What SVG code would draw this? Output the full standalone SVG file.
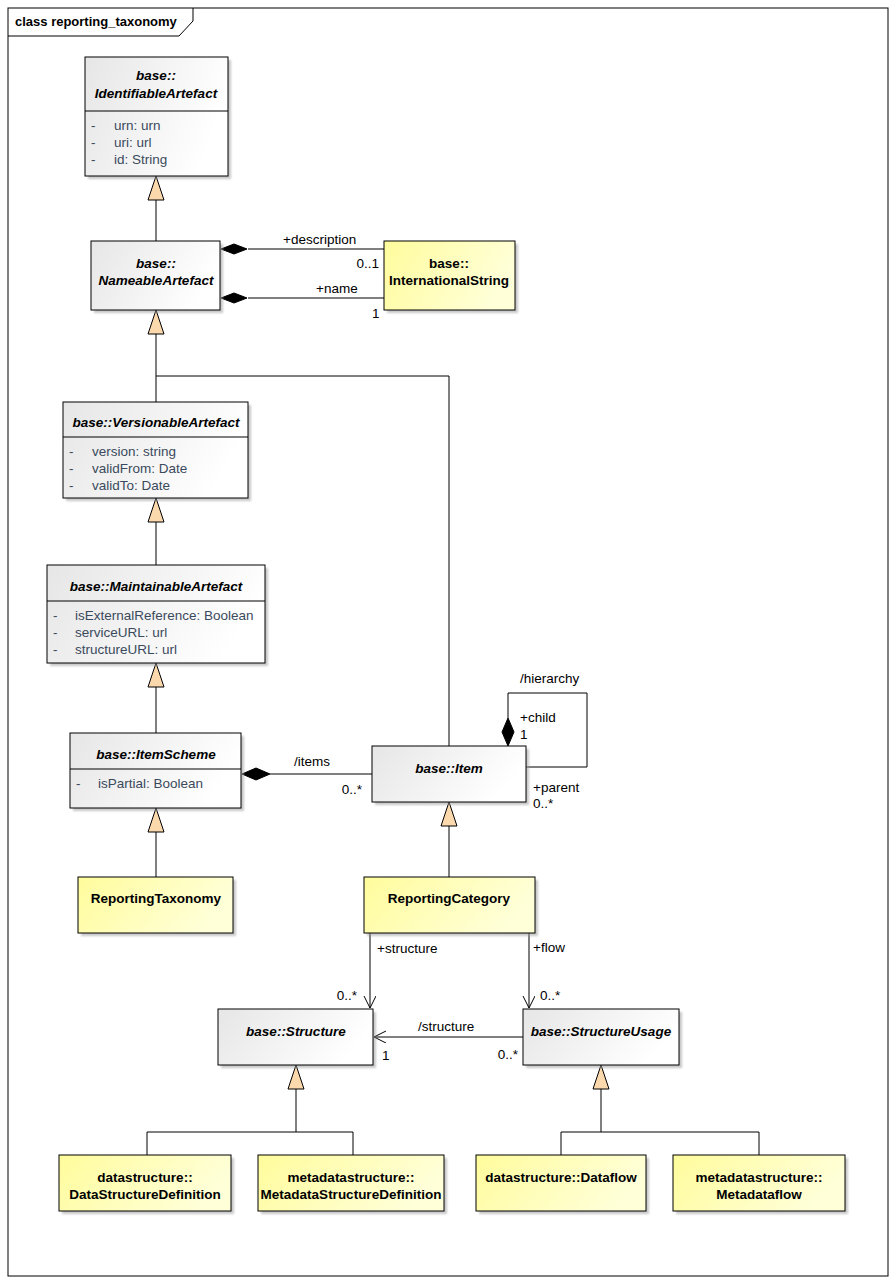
<svg xmlns="http://www.w3.org/2000/svg" width="896" height="1283" viewBox="0 0 896 1283">
<defs>
<linearGradient id="gg" x1="0" y1="0" x2="1" y2="0.3">
<stop offset="0" stop-color="#E6E6E6"/><stop offset="1" stop-color="#FFFFFF"/>
</linearGradient>
<linearGradient id="gy" x1="0" y1="0" x2="1" y2="0.3">
<stop offset="0" stop-color="#FFFC9C"/><stop offset="1" stop-color="#FFFFD8"/>
</linearGradient>
<filter id="sh" x="-10%" y="-10%" width="130%" height="130%">
<feGaussianBlur stdDeviation="1.2"/>
</filter>
<marker id="open" markerWidth="14" markerHeight="14" refX="12" refY="6" orient="auto" markerUnits="userSpaceOnUse">
<path d="M0,0 L12,6 L0,12" fill="none" stroke="#000" stroke-width="1"/>
</marker>
</defs>
<style>
.bg{fill:#fff}
.frame{fill:none;stroke:#000;stroke-width:1}
.box{stroke:#000;stroke-width:1}
.abs{fill:url(#gg)}
.yel{fill:url(#gy)}
.shadow{fill:#9A9A9A;opacity:0.55;filter:url(#sh)}
.ln{fill:none;stroke:#000;stroke-width:1}
.tri{fill:#FBD9AC;stroke:#000;stroke-width:1}
.dia{fill:#000;stroke:#000;stroke-width:1}
text{font-family:"Liberation Sans",Arial,sans-serif;font-size:13.5px;fill:#000}
.cn{font-weight:bold;font-style:italic;text-anchor:middle}
.cy{font-weight:bold;text-anchor:middle}
.at{fill:#3A4A5C}
.e{text-anchor:end}
.title{font-weight:bold;font-size:13px}
</style>
<rect class="bg" x="0" y="0" width="896" height="1283"/>
<g id="frame">
<rect class="frame" x="8" y="8" width="880" height="1268"/>
<path class="frame" d="M8,36 L179,36 L193,21 L193,8"/>
<text class="title" x="15" y="26">class reporting_taxonomy</text>
</g>

<g id="connectors">
<line class="ln" x1="156" y1="200" x2="156" y2="241"/>
<polygon class="tri" points="156,176 148,200 164,200"/>
<line class="ln" x1="156" y1="334" x2="156" y2="402"/>
<polygon class="tri" points="156,310 148,334 164,334"/>
<polyline class="ln" points="449,746 449,376 156,376"/>
<line class="ln" x1="156" y1="522" x2="156" y2="565"/>
<polygon class="tri" points="156,498 148,522 164,522"/>
<line class="ln" x1="156" y1="687" x2="156" y2="733"/>
<polygon class="tri" points="156,663 148,687 164,687"/>
<line class="ln" x1="156" y1="832" x2="156" y2="877"/>
<polygon class="tri" points="156,808 148,832 164,832"/>
<line class="ln" x1="248" y1="249" x2="384" y2="249"/>
<polygon class="dia" points="221,249 234,244 247,249 234,254"/>
<text x="283" y="244">+description</text>
<text class="e" x="379" y="268">0..1</text>
<line class="ln" x1="248" y1="298" x2="384" y2="298"/>
<polygon class="dia" points="221,298 234,293 247,298 234,303"/>
<text x="316" y="293">+name</text>
<text x="372" y="318">1</text>
<line class="ln" x1="270" y1="774" x2="372" y2="774"/>
<polygon class="dia" points="242,774 256,768 270,774 256,780"/>
<text x="294" y="766">/items</text>
<text class="e" x="362" y="794">0..*</text>
<polyline class="ln" points="526,767 587,767 587,693 508,693 508,718"/>
<polygon class="dia" points="508,746 502,732 508,718 514,732"/>
<text x="520" y="683">/hierarchy</text>
<text x="520" y="722">+child</text>
<text x="520" y="739">1</text>
<text x="533" y="792">+parent</text>
<text x="533" y="808">0..*</text>
<line class="ln" x1="449" y1="826" x2="449" y2="877"/>
<polygon class="tri" points="449,802 441,826 457,826"/>
<line class="ln" x1="370" y1="933" x2="370" y2="1008" marker-end="url(#open)"/>
<text x="377" y="953">+structure</text>
<text class="e" x="357" y="1000">0..*</text>
<line class="ln" x1="529" y1="933" x2="529" y2="1008" marker-end="url(#open)"/>
<text x="533" y="952">+flow</text>
<text x="540" y="1000">0..*</text>
<line class="ln" x1="523" y1="1037" x2="374" y2="1037" marker-end="url(#open)"/>
<text x="418" y="1031">/structure</text>
<text x="382" y="1060">1</text>
<text class="e" x="518" y="1059">0..*</text>
<line class="ln" x1="296" y1="1089" x2="296" y2="1132"/>
<polygon class="tri" points="296,1065 288,1089 304,1089"/>
<polyline class="ln" points="147,1155 147,1132 353,1132 353,1155"/>
<line class="ln" x1="601" y1="1089" x2="601" y2="1132"/>
<polygon class="tri" points="601,1065 593,1089 609,1089"/>
<polyline class="ln" points="561,1155 561,1132 759,1132 759,1155"/>
</g>

<g id="IdentifiableArtefact">
<rect class="shadow" x="88" y="60" width="143" height="119"/>
<rect class="box abs" x="85" y="57" width="143" height="119"/>
<text class="cn" x="156" y="80">base::</text>
<text class="cn" x="156" y="98">IdentifiableArtefact</text>
<line class="ln" x1="85" y1="111" x2="228" y2="111"/>
<text class="at" x="91" y="130">-</text><text class="at" x="114" y="130">urn: urn</text>
<text class="at" x="91" y="147">-</text><text class="at" x="114" y="147">uri: url</text>
<text class="at" x="91" y="164">-</text><text class="at" x="114" y="164">id: String</text>
</g>

<g id="NameableArtefact">
<rect class="shadow" x="94" y="244" width="129" height="69"/>
<rect class="box abs" x="91" y="241" width="129" height="69"/>
<text class="cn" x="156" y="268">base::</text>
<text class="cn" x="156" y="285">NameableArtefact</text>
</g>

<g id="InternationalString">
<rect class="shadow" x="387" y="244" width="131" height="69"/>
<rect class="box yel" x="384" y="241" width="131" height="69"/>
<text class="cy" x="449" y="268">base::</text>
<text class="cy" x="449" y="285">InternationalString</text>
</g>

<g id="VersionableArtefact">
<rect class="shadow" x="66" y="405" width="185" height="96"/>
<rect class="box abs" x="63" y="402" width="185" height="96"/>
<text class="cn" x="156" y="427">base::VersionableArtefact</text>
<line class="ln" x1="63" y1="437" x2="248" y2="437"/>
<text class="at" x="69" y="456">-</text><text class="at" x="92" y="456">version: string</text>
<text class="at" x="69" y="473">-</text><text class="at" x="92" y="473">validFrom: Date</text>
<text class="at" x="69" y="490">-</text><text class="at" x="92" y="490">validTo: Date</text>
</g>

<g id="MaintainableArtefact">
<rect class="shadow" x="50" y="568" width="218" height="98"/>
<rect class="box abs" x="47" y="565" width="218" height="98"/>
<text class="cn" x="156" y="591">base::MaintainableArtefact</text>
<line class="ln" x1="47" y1="601" x2="265" y2="601"/>
<text class="at" x="53" y="620">-</text><text class="at" x="75" y="620">isExternalReference: Boolean</text>
<text class="at" x="53" y="637">-</text><text class="at" x="75" y="637">serviceURL: url</text>
<text class="at" x="53" y="654">-</text><text class="at" x="75" y="654">structureURL: url</text>
</g>

<g id="ItemScheme">
<rect class="shadow" x="73" y="736" width="171" height="75"/>
<rect class="box abs" x="70" y="733" width="171" height="75"/>
<text class="cn" x="156" y="759">base::ItemScheme</text>
<line class="ln" x1="70" y1="769" x2="241" y2="769"/>
<text class="at" x="76" y="788">-</text><text class="at" x="98" y="788">isPartial: Boolean</text>
</g>

<g id="Item">
<rect class="shadow" x="375" y="749" width="154" height="56"/>
<rect class="box abs" x="372" y="746" width="154" height="56"/>
<text class="cn" x="449" y="773">base::Item</text>
</g>

<g id="ReportingTaxonomy">
<rect class="shadow" x="81" y="880" width="155" height="56"/>
<rect class="box yel" x="78" y="877" width="155" height="56"/>
<text class="cy" x="156" y="903">ReportingTaxonomy</text>
</g>

<g id="ReportingCategory">
<rect class="shadow" x="367" y="880" width="171" height="56"/>
<rect class="box yel" x="364" y="877" width="171" height="56"/>
<text class="cy" x="449" y="903">ReportingCategory</text>
</g>

<g id="Structure">
<rect class="shadow" x="221" y="1012" width="155" height="56"/>
<rect class="box abs" x="218" y="1009" width="155" height="56"/>
<text class="cn" x="296" y="1036">base::Structure</text>
</g>

<g id="StructureUsage">
<rect class="shadow" x="526" y="1012" width="156" height="56"/>
<rect class="box abs" x="523" y="1009" width="156" height="56"/>
<text class="cn" x="601" y="1036">base::StructureUsage</text>
</g>

<g id="DataStructureDefinition">
<rect class="shadow" x="62" y="1158" width="172" height="56"/>
<rect class="box yel" x="59" y="1155" width="172" height="56"/>
<text class="cy" x="145" y="1182">datastructure::</text>
<text class="cy" x="145" y="1199">DataStructureDefinition</text>
</g>

<g id="MetadataStructureDefinition">
<rect class="shadow" x="261" y="1158" width="186" height="56"/>
<rect class="box yel" x="258" y="1155" width="186" height="56"/>
<text class="cy" x="351" y="1182">metadatastructure::</text>
<text class="cy" x="351" y="1199">MetadataStructureDefinition</text>
</g>

<g id="Dataflow">
<rect class="shadow" x="479" y="1158" width="170" height="56"/>
<rect class="box yel" x="476" y="1155" width="170" height="56"/>
<text class="cy" x="561" y="1182">datastructure::Dataflow</text>
</g>

<g id="Metadataflow">
<rect class="shadow" x="676" y="1158" width="172" height="56"/>
<rect class="box yel" x="673" y="1155" width="172" height="56"/>
<text class="cy" x="759" y="1182">metadatastructure::</text>
<text class="cy" x="759" y="1199">Metadataflow</text>
</g>
</svg>
